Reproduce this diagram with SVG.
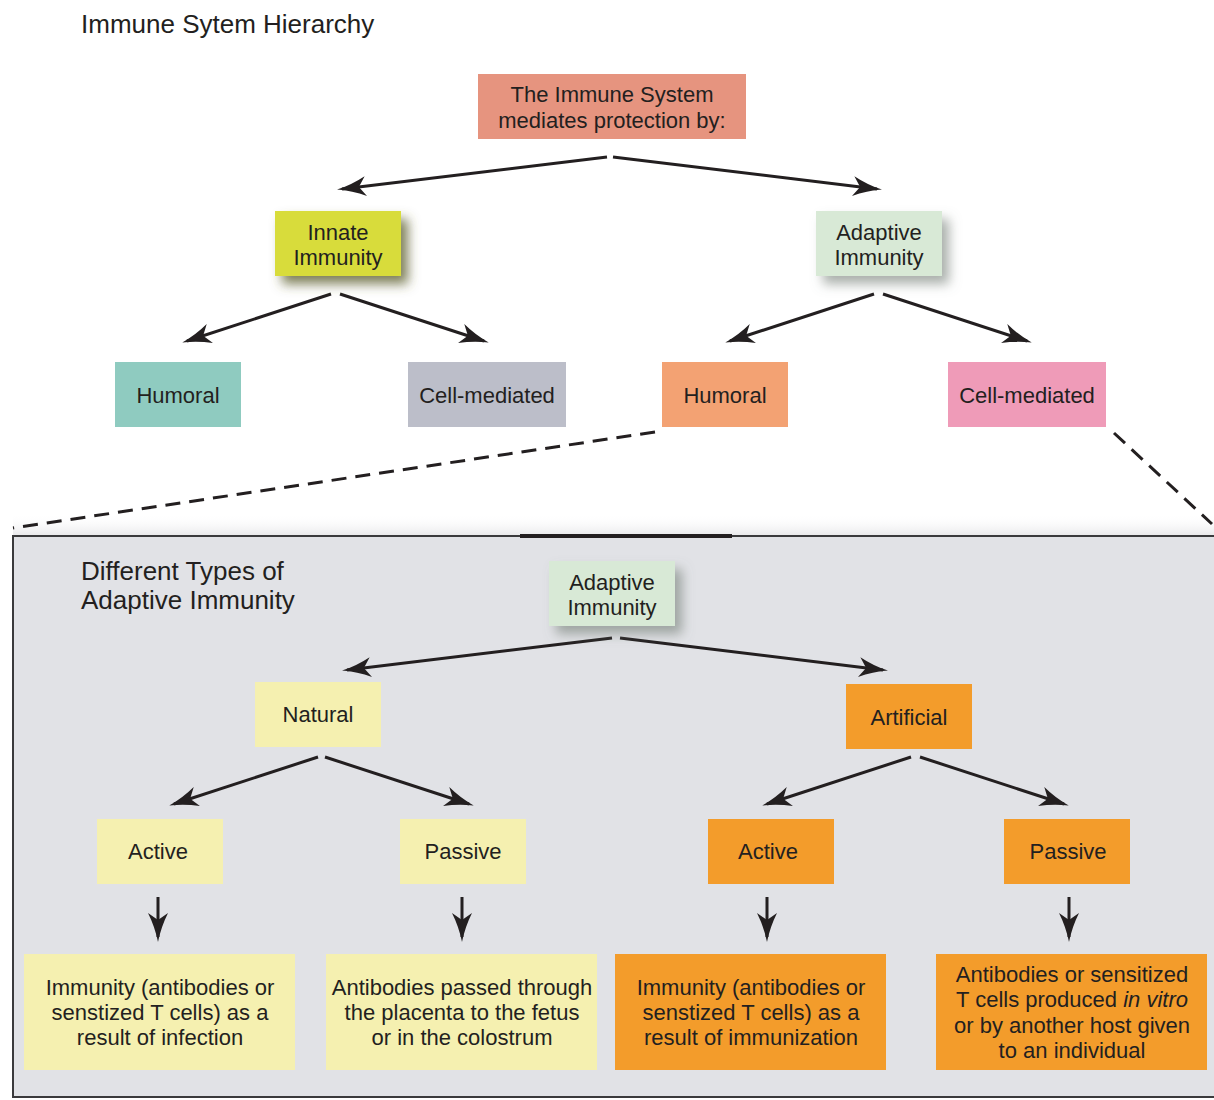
<svg xmlns="http://www.w3.org/2000/svg" width="1214" height="1100" viewBox="0 0 1214 1100">
<defs>
<style>
text{font-family:"Liberation Sans",Arial,sans-serif;font-size:22px;fill:#231f20;text-anchor:middle}
.title{font-size:26px;text-anchor:start}
.arr{stroke:#231f20;stroke-width:3;fill:none;marker-end:url(#ah)}
.dash{stroke:#231f20;stroke-width:3;fill:none;stroke-dasharray:15 9}
</style>
<marker id="ah" markerUnits="userSpaceOnUse" viewBox="-28 -12 34 24" refX="0" refY="0" markerWidth="34" markerHeight="24" orient="auto">
<path d="M5,0 Q-10,-3 -24,-10 L-17,0 L-24,10 Q-10,3 5,0 Z" fill="#231f20"/>
</marker>
<filter id="shG" x="-30%" y="-30%" width="170%" height="170%">
<feDropShadow dx="7" dy="8" stdDeviation="6" flood-color="#5e6030" flood-opacity="0.8"/>
</filter>
<filter id="shA" x="-30%" y="-30%" width="170%" height="170%">
<feDropShadow dx="7" dy="8" stdDeviation="6" flood-color="#707a72" flood-opacity="0.6"/>
</filter>
<linearGradient id="glow" x1="0" y1="0" x2="0" y2="1">
<stop offset="0" stop-color="#ffffff" stop-opacity="0"/>
<stop offset="1" stop-color="#e8e8ea" stop-opacity="1"/>
</linearGradient>
</defs>
<rect width="1214" height="1100" fill="#ffffff"/>
<text class="title" x="81" y="33">Immune Sytem Hierarchy</text>

<g id="panel">
<rect x="13" y="514" width="1201" height="22" fill="url(#glow)"/>
<rect x="13" y="536" width="1210" height="561" fill="#e1e2e6" stroke="#3a3a3c" stroke-width="2"/>
<line x1="520" y1="536" x2="732" y2="536" stroke="#231f20" stroke-width="4"/>
<text class="title" x="81" y="580">Different Types of</text>
<text class="title" x="81" y="609">Adaptive Immunity</text>
</g>

<g id="connectors">
<line class="arr" x1="607" y1="157" x2="342" y2="189"/>
<line class="arr" x1="613" y1="157" x2="877" y2="189"/>
<line class="arr" x1="331" y1="294" x2="187" y2="341"/>
<line class="arr" x1="340" y1="294" x2="484" y2="341"/>
<line class="arr" x1="874" y1="294" x2="730" y2="341"/>
<line class="arr" x1="883" y1="294" x2="1027" y2="341"/>
<line class="dash" x1="655" y1="432" x2="13" y2="528"/>
<line class="dash" x1="1114" y1="433" x2="1212" y2="524"/>
<line class="arr" x1="612" y1="638" x2="347" y2="670"/>
<line class="arr" x1="620" y1="638" x2="883" y2="670"/>
<line class="arr" x1="318" y1="757" x2="174" y2="804"/>
<line class="arr" x1="325" y1="757" x2="469" y2="804"/>
<line class="arr" x1="911" y1="757" x2="767" y2="804"/>
<line class="arr" x1="920" y1="757" x2="1064" y2="804"/>
<line class="arr" x1="158" y1="897" x2="158" y2="937"/>
<line class="arr" x1="462" y1="897" x2="462" y2="937"/>
<line class="arr" x1="767" y1="897" x2="767" y2="937"/>
<line class="arr" x1="1069" y1="897" x2="1069" y2="937"/>
</g>

<g id="root">
<rect x="478" y="74" width="268" height="65" fill="#e6947f"/>
<text x="612" y="102">The Immune System</text>
<text x="612" y="128">mediates protection by:</text>
</g>
<g id="innate">
<rect x="275" y="211" width="126" height="65" fill="#d8dc3a" filter="url(#shG)"/>
<text x="338" y="240">Innate</text>
<text x="338" y="265">Immunity</text>
</g>
<g id="adaptive">
<rect x="816" y="211" width="126" height="65" fill="#d8e9d6" filter="url(#shA)"/>
<text x="879" y="240">Adaptive</text>
<text x="879" y="265">Immunity</text>
</g>
<g id="humoral1">
<rect x="115" y="362" width="126" height="65" fill="#8fcbc0"/>
<text x="178" y="403">Humoral</text>
</g>
<g id="cell1">
<rect x="408" y="362" width="158" height="65" fill="#bcbec9"/>
<text x="487" y="403">Cell-mediated</text>
</g>
<g id="humoral2">
<rect x="662" y="362" width="126" height="65" fill="#f3a273"/>
<text x="725" y="403">Humoral</text>
</g>
<g id="cell2">
<rect x="948" y="362" width="158" height="65" fill="#ef9bb8"/>
<text x="1027" y="403">Cell-mediated</text>
</g>

<g id="adaptive2">
<rect x="549" y="561" width="126" height="65" fill="#d8e9d6" filter="url(#shA)"/>
<text x="612" y="590">Adaptive</text>
<text x="612" y="615">Immunity</text>
</g>
<g id="natural">
<rect x="255" y="682" width="126" height="65" fill="#f5f0b0"/>
<text x="318" y="722">Natural</text>
</g>
<g id="artificial">
<rect x="846" y="684" width="126" height="65" fill="#f39c2b"/>
<text x="909" y="725">Artificial</text>
</g>
<g id="active1">
<rect x="97" y="819" width="126" height="65" fill="#f5f0b0"/>
<text x="158" y="859">Active</text>
</g>
<g id="passive1">
<rect x="400" y="819" width="126" height="65" fill="#f5f0b0"/>
<text x="463" y="859">Passive</text>
</g>
<g id="active2">
<rect x="708" y="819" width="126" height="65" fill="#f39c2b"/>
<text x="768" y="859">Active</text>
</g>
<g id="passive2">
<rect x="1004" y="819" width="126" height="65" fill="#f39c2b"/>
<text x="1068" y="859">Passive</text>
</g>
<g id="desc1">
<rect x="24" y="954" width="271" height="116" fill="#f5f0b0"/>
<text x="160" y="995">Immunity (antibodies or</text>
<text x="160" y="1020">senstized T cells) as a</text>
<text x="160" y="1045">result of infection</text>
</g>
<g id="desc2">
<rect x="326" y="954" width="271" height="116" fill="#f5f0b0"/>
<text x="462" y="995">Antibodies passed through</text>
<text x="462" y="1020">the placenta to the fetus</text>
<text x="462" y="1045">or in the colostrum</text>
</g>
<g id="desc3">
<rect x="615" y="954" width="271" height="116" fill="#f39c2b"/>
<text x="751" y="995">Immunity (antibodies or</text>
<text x="751" y="1020">senstized T cells) as a</text>
<text x="751" y="1045">result of immunization</text>
</g>
<g id="desc4">
<rect x="936" y="954" width="271" height="116" fill="#f39c2b"/>
<text x="1072" y="982">Antibodies or sensitized</text>
<text x="1072" y="1007">T cells produced <tspan font-style="italic">in vitro</tspan></text>
<text x="1072" y="1033">or by another host given</text>
<text x="1072" y="1058">to an individual</text>
</g>
</svg>
